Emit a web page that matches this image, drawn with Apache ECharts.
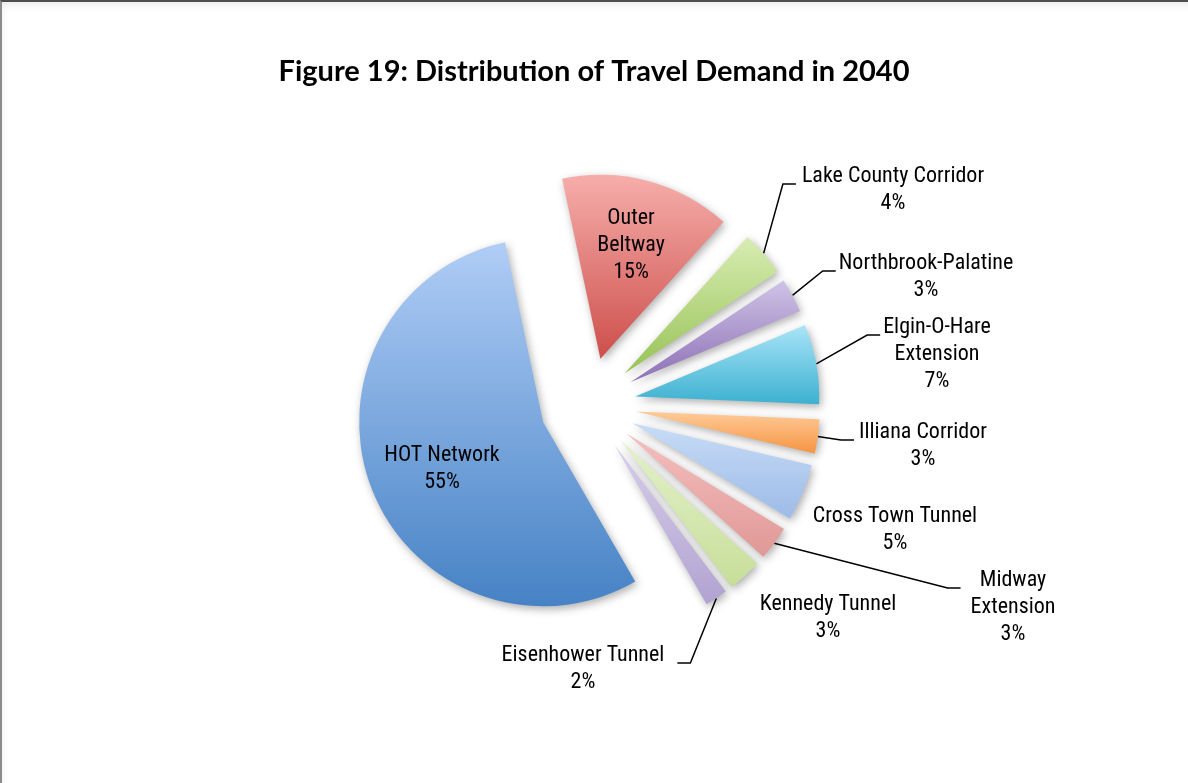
<!DOCTYPE html>
<html>
<head>
<meta charset="utf-8">
<script src="https://cdn.jsdelivr.net/npm/echarts@6/dist/echarts.min.js"></script>
<style>
  html, body { margin: 0; padding: 0; background: #ffffff; }
  #frame {
    position: absolute; left: 0; top: 0; width: 1188px; height: 783px;
    box-sizing: border-box;
    border-top: 2px solid #4d4d4d;
    border-left: 2px solid #8c8c8c;
    box-shadow: inset 6px 10px 10px -8px rgba(0, 0, 0, 0.10);
  }
  #chart { position: absolute; left: 0; top: 0; width: 1188px; height: 783px; }
</style>
</head>
<body>
<div id="frame"></div>
<div id="chart"></div>
<script>
// Share of 2040 travel demand by project (percent)
const categories = [
  'Outer Beltway', 'Lake County Corridor', 'Northbrook-Palatine',
  'Elgin-O-Hare Extension', 'Illiana Corridor', 'Cross Town Tunnel',
  'Midway Extension', 'Kennedy Tunnel', 'Eisenhower Tunnel', 'HOT Network'
];
const shares = [15, 4, 3, 7, 3, 5, 3, 3, 2, 55];

// Category names as they wrap in the data labels
const labelNames = [
  'Outer\nBeltway', 'Lake County Corridor', 'Northbrook-Palatine',
  'Elgin-O-Hare\nExtension', 'Illiana Corridor', 'Cross Town Tunnel',
  'Midway\nExtension', 'Kennedy Tunnel', 'Eisenhower Tunnel', 'HOT Network'
];

// Slice fills: light top to deeper bottom
const fillTop = ['#f6aeab', '#d8edb2', '#cfc3e6', '#a9e4f8', '#ffcb98',
                 '#c8dcf7', '#f4bfbe', '#e3f1ca', '#d7cdea', '#b0cdf6'];
const fillBottom = ['#cd4f4b', '#98c257', '#8d70b6', '#3db1d0', '#f69442',
                    '#9cbbe7', '#e09896', '#c7de99', '#b1a3d1', '#4682c5'];

// Pie geometry: every slice is pulled out from the common centre by the same distance
const PIE_CENTER = [588, 405];
const PIE_RADIUS = 184;
const START_ANGLE = 102;
const EXPLODE = 48;

// Label placement: centre x, top of the first text line, leader line on/off,
// and the gap between the leader line and the text
const LINE_H = 27;
const labelPlacement = [
  { x: 631, y: 205, leader: false, gap: 0 },
  { x: 893, y: 163, leader: true, gap: 6 },
  { x: 926, y: 250, leader: true, gap: 3 },
  { x: 937, y: 314, leader: true, gap: 3 },
  { x: 923, y: 419, leader: true, gap: 5 },
  { x: 895, y: 503, leader: false, gap: 0 },
  { x: 1013, y: 567, leader: true, gap: 10 },
  { x: 828, y: 591, leader: false, gap: 0 },
  { x: 583, y: 642, leader: true, gap: 13 },
  { x: 442, y: 442, leader: false, gap: 0 }
];

function lineCount(i) {
  return labelNames[i].split('\n').length + 1;
}
// Top padding that puts the middle of the label box on the first line's baseline,
// so the leader line meets the label there.
function leaderPad(i) {
  return labelPlacement[i].leader ? Math.max(0, lineCount(i) * LINE_H - 42) : 0;
}

const total = shares.reduce(function (a, b) { return a + b; }, 0);

const hiddenItem = function (name, value) {
  return {
    name: name,
    value: value,
    itemStyle: { color: 'rgba(0,0,0,0)', shadowBlur: 0, shadowColor: 'rgba(0,0,0,0)' },
    label: { show: false },
    labelLine: { show: false }
  };
};

// One pie per slice: same angles, but each centre is shifted along its slice's bisector
let cumulative = 0;
const series = categories.map(function (name, i) {
  const midDeg = START_ANGLE - (cumulative + shares[i] / 2) / total * 360;
  cumulative += shares[i];
  const rad = midDeg * Math.PI / 180;
  const center = [
    PIE_CENTER[0] + EXPLODE * Math.cos(rad),
    PIE_CENTER[1] - EXPLODE * Math.sin(rad)
  ];
  const p = labelPlacement[i];
  const data = categories.map(function (n, j) {
    if (j !== i) return hiddenItem(n, shares[j]);
    return {
      name: n,
      value: shares[j],
      itemStyle: {
        color: new echarts.graphic.LinearGradient(0, 0, 0, 1, [
          { offset: 0, color: fillTop[j] },
          { offset: 1, color: fillBottom[j] }
        ]),
        shadowBlur: 8,
        shadowOffsetX: 2,
        shadowOffsetY: 3,
        shadowColor: 'rgba(0, 0, 0, 0.32)'
      },
      label: { show: true, padding: [leaderPad(j), p.gap, 0, p.gap] },
      labelLine: { show: p.leader }
    };
  });
  return {
    type: 'pie',
    name: name,
    center: center,
    radius: PIE_RADIUS,
    startAngle: START_ANGLE,
    clockwise: true,
    avoidLabelOverlap: false,
    emphasis: { disabled: true },
    label: {
      position: 'outside',
      color: '#000000',
      fontFamily: '"Liberation Sans Narrow", "Arial Narrow", "Roboto Condensed", Roboto, sans-serif',
      fontSize: 22,
      lineHeight: LINE_H,
      align: 'center',
      backgroundColor: 'rgba(255,255,255,0)',
      formatter: function (params) {
        return labelNames[params.dataIndex] + '\n' + params.value + '%';
      }
    },
    labelLine: {
      length: 20,
      length2: 13,
      minTurnAngle: 20,
      lineStyle: { color: '#000000', width: 1.5 }
    },
    labelLayout: function (params) {
      if (params.dataIndex !== i) return {};
      return {
        x: p.x,
        y: p.y - leaderPad(i),
        align: 'center',
        verticalAlign: 'top'
      };
    },
    data: data
  };
});

const chart = echarts.init(document.getElementById('chart'), null, { renderer: 'canvas' });

chart.setOption({
  animation: false,
  backgroundColor: 'transparent',
  title: {
    text: 'Figure 19: Distribution of Travel Demand in 2040',
    left: 'center',
    top: 52,
    textStyle: {
      fontFamily: 'Lato, "Open Sans", sans-serif',
      fontWeight: 'bold',
      fontSize: 29,
      color: '#000000'
    }
  },
  series: series
});
</script>
</body>
</html>
